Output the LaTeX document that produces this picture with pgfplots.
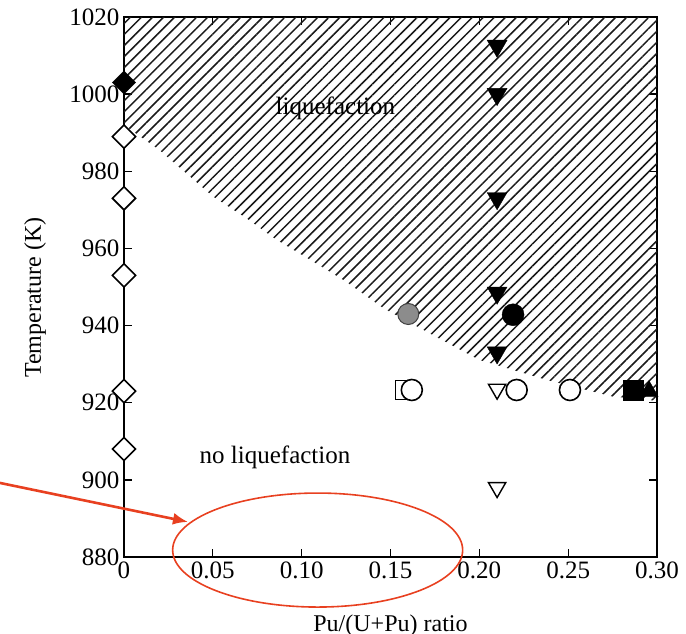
\documentclass[border=0pt]{standalone}
\usepackage{fontspec}
\setmainfont{Liberation Serif}
\usepackage{pgfplots}
\pgfplotsset{compat=1.18}
\usetikzlibrary{patterns.meta,arrows.meta}
\definecolor{annot}{RGB}{232,64,32}

\begin{document}
\begin{tikzpicture}
\begin{axis}[
    scale only axis,
    width=533pt, height=540pt,
    xmin=0, xmax=0.30,
    ymin=880, ymax=1020,
    xtick={0,0.05,0.10,0.15,0.20,0.25,0.30},
    xticklabels={0,0.05,0.10,0.15,0.20,0.25,0.30},
    ytick={880,900,920,940,960,980,1000,1020},
    /pgf/number format/assume math mode=true,
    /pgf/number format/set thousands separator={},
    tick align=inside,
    major tick length=8pt,
    tick style={line width=1.3pt, black},
    axis line style={line width=1.8pt},
    ticklabel style={font=\fontsize{25}{25}\selectfont},
    xticklabel style={yshift=-1pt},
    yticklabel style={xshift=-1pt},
    xlabel={Pu/(U+Pu) ratio},
    ylabel={Temperature (K)},
    label style={font=\fontsize{24}{24}\selectfont},
    ylabel style={at={(axis description cs:-0.167,0.48)}, anchor=center},
    xlabel style={at={(axis description cs:0.5,0)}, anchor=north, yshift=-54pt},
    clip=false,
]

% liquefaction region
\addplot[draw=none, pattern={Lines[angle=45, distance=7.8pt, line width=1.5pt]}, pattern color=black!90]
    coordinates {(0,992) (0.02,985.5) (0.035,979.5) (0.05,973.5) (0.069,967.8)
                 (0.086,962.2) (0.105,957) (0.125,951.4) (0.146,944.5) (0.17,938.5)
                 (0.20,931.1) (0.238,925.9) (0.275,921.6) (0.30,920.5)
                 (0.30,1020) (0,1020)} -- cycle;

% open diamonds
\addplot[only marks, mark=square*, mark size=8.2pt,
         mark options={rotate=45, fill=white, draw=black, line width=1.6pt}]
    coordinates {(0,989) (0,973) (0,953) (0,923) (0,908)};

% filled diamond
\addplot[only marks, mark=square*, mark size=8.2pt,
         mark options={rotate=45, fill=black, draw=black}]
    coordinates {(0,1003)};

% filled down triangles
\addplot[only marks, mark=triangle*, mark size=11.5pt,
         mark options={rotate=180, fill=black, draw=black}]
    coordinates {(0.21,1012.5) (0.21,1000) (0.21,973) (0.21,948.5) (0.21,933)};

% open down triangles
\addplot[only marks, mark=triangle*, mark size=10pt,
         mark options={rotate=180, fill=white, draw=black, line width=1.4pt}]
    coordinates {(0.21,923.5) (0.21,898)};

% open square
\addplot[only marks, mark=square*, mark size=9.5pt,
         mark options={fill=white, draw=black, line width=1.4pt}]
    coordinates {(0.158,923.3)};

% open circles
\addplot[only marks, mark=*, mark size=10.5pt,
         mark options={fill=white, draw=black, line width=1.6pt}]
    coordinates {(0.162,923.3) (0.221,923.3) (0.251,923.3)};

% grey circle
\addplot[only marks, mark=*, mark size=10.5pt,
         mark options={fill=gray!90, draw=gray!50!black, line width=1pt}]
    coordinates {(0.160,943)};

% filled circle
\addplot[only marks, mark=*, mark size=11pt,
         mark options={fill=black, draw=black}]
    coordinates {(0.219,942.8)};

% filled up triangle and filled square
\addplot[only marks, mark=triangle*, mark size=10.5pt,
         mark options={fill=black, draw=black}]
    coordinates {(0.2955,923)};
\addplot[only marks, mark=square*, mark size=10pt,
         mark options={fill=black, draw=black}]
    coordinates {(0.2865,923.3)};

\node[font=\fontsize{25}{25}\selectfont] at (axis cs:0.119,996.4) {liquefaction};
\node[font=\fontsize{25}{25}\selectfont] at (axis cs:0.085,905.9) {no liquefaction};

% red annotation
\draw[annot, line width=1.6pt] (axis cs:0.109,881.8) ellipse [x radius=145pt, y radius=57pt];
\draw[annot, line width=2.6pt, -{Latex[length=15pt,width=12pt]}]
    (axis cs:-0.0698,899.2) -- (axis cs:0.036,889.1);

\coordinate (bl) at (rel axis cs:0,0);
\coordinate (tr) at (rel axis cs:1,1);
\end{axis}
\pgfresetboundingbox
\path[use as bounding box] ([shift={(-124pt,-76pt)}]bl) rectangle ([shift={(29pt,17pt)}]tr);
\end{tikzpicture}
\end{document}
